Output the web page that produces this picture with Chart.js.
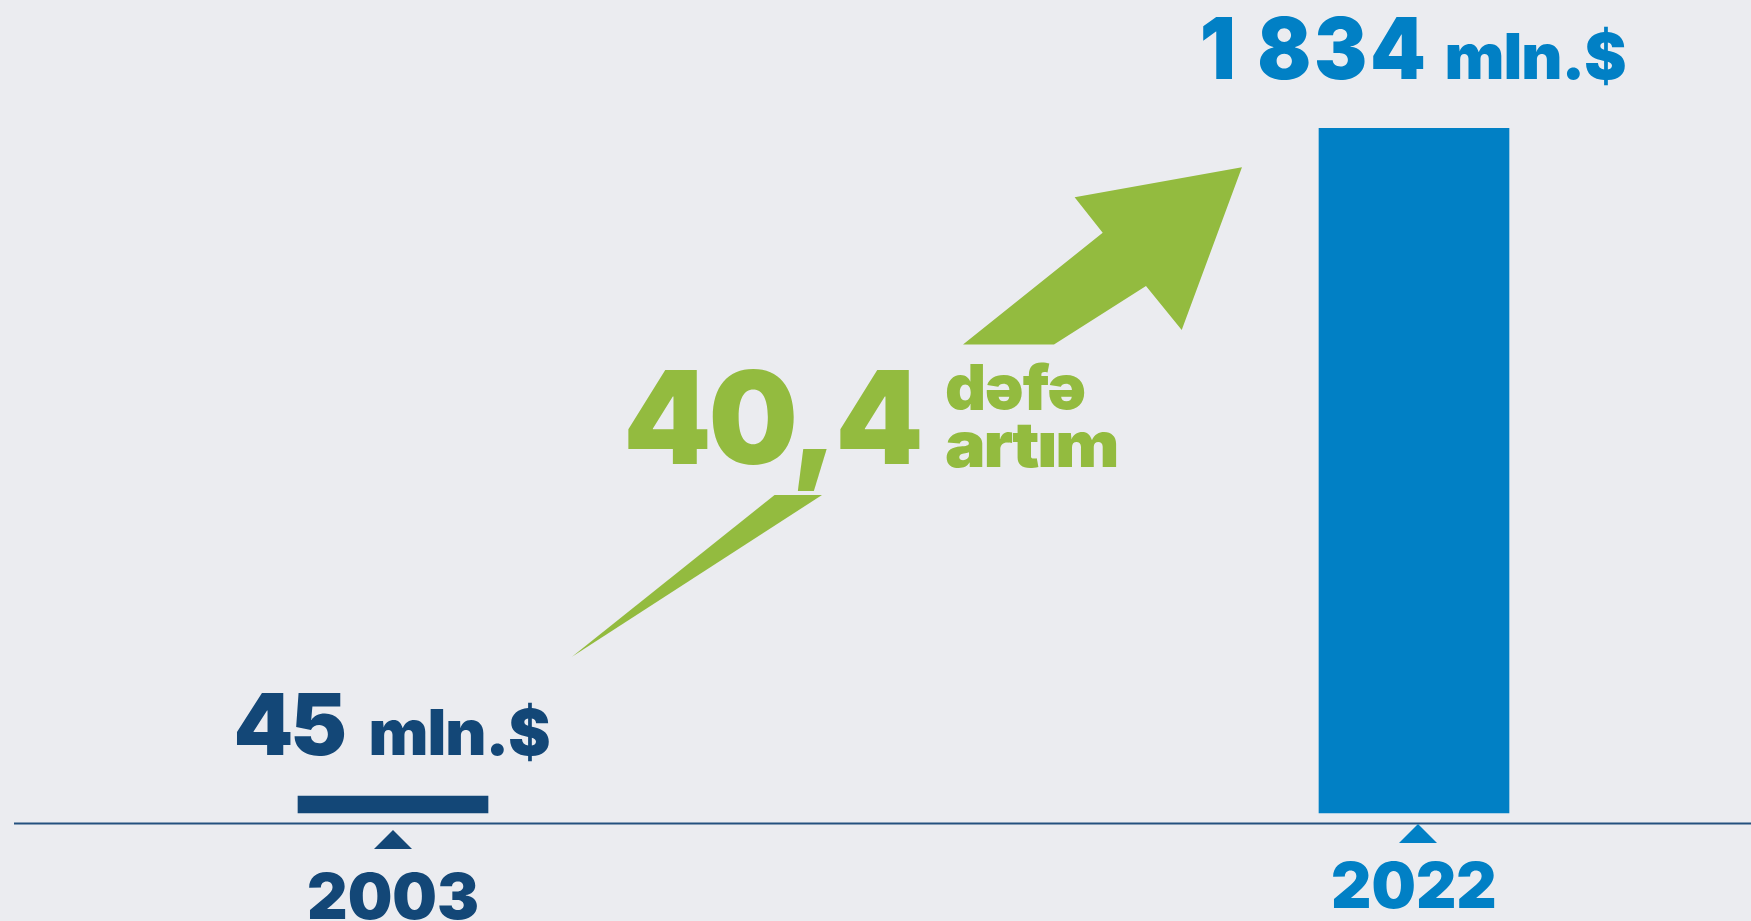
<!DOCTYPE html>
<html><head><meta charset="utf-8">
<script src="https://cdn.jsdelivr.net/npm/chart.js@4.4.1/dist/chart.umd.min.js"></script>
<style>
html,body{margin:0;padding:0;background:#EBECF0;overflow:hidden;}
#wrap{width:1751px;height:921px;position:relative;}
</style></head><body>
<div id="wrap"><canvas id="c"></canvas></div>
<script>
// ---- data ----
const categories = ['2003', '2022'];
const exportValues = [45, 1834];
const unitLabel = 'mln.$';
const growthFactor = '40,4';
const growthWords = ['dəfə', 'artım'];

// ---- styles ----
const NAVY = '#134777', BLUE = '#0180C5', GREEN = '#93BB3F', AXIS = '#24507E';
const barColors = [NAVY, BLUE];
const FONT = 'Inter, "DejaVu Sans", sans-serif';

function fmt(v){ return String(v).replace(/\B(?=(\d{3})+(?!\d))/g, ' '); }

function drawFit(ctx, text, left, baseline, size, inkW, color, track){
  ctx.save();
  ctx.font = `900 ${size}px ${FONT}`;
  ctx.textAlign = 'left'; ctx.textBaseline = 'alphabetic';
  if ('letterSpacing' in ctx) ctx.letterSpacing = Math.round((track || 0) * size) + 'px';
  const m = ctx.measureText(text);
  const natural = m.actualBoundingBoxLeft + m.actualBoundingBoxRight;
  const sx = inkW ? inkW / natural : 1;
  ctx.translate(left, baseline);
  ctx.scale(sx, 1);
  ctx.fillStyle = color;
  ctx.fillText(text, m.actualBoundingBoxLeft, 0);
  ctx.restore();
}

const valueStyle = [
  {numSize: 85, numInk: 108, gap: 27, unitSize: 63, unitInk: 178, lift: 41, track: -0.03},
  {numSize: 85, numInk: 221, gap: 24, unitSize: 63, unitInk: 178, lift: 49, track: 0.03}
];
const tickStyle = [
  {apex: 7, base: 26, half: 19, dx: 0, baseline: 96, ink: 168},
  {apex: 1, base: 20, half: 19, dx: 4, baseline: 85, ink: 162}
];

const annotate = {
  id: 'annotate',
  afterDatasetsDraw(chart){
    const ctx = chart.ctx, xs = chart.scales.x, ys = chart.scales.y;
    const axisY = chart.chartArea.bottom;
    ctx.save();
    ctx.strokeStyle = AXIS; ctx.lineWidth = 2;
    ctx.beginPath(); ctx.moveTo(14, axisY + 0.5); ctx.lineTo(chart.width, axisY + 0.5); ctx.stroke();
    ctx.restore();

    categories.forEach((cat, i) => {
      const cx = xs.getPixelForValue(i);
      const top = ys.getPixelForValue(exportValues[i]);
      const vs = valueStyle[i];
      const groupW = vs.numInk + vs.gap + vs.unitInk;
      const left = cx - groupW / 2;
      const bl = top - vs.lift;
      drawFit(ctx, fmt(exportValues[i]), left, bl, vs.numSize, vs.numInk, barColors[i], vs.track);
      drawFit(ctx, unitLabel, left + vs.numInk + vs.gap, bl, vs.unitSize, vs.unitInk, barColors[i], -0.02);

      const ts = tickStyle[i];
      const tx = cx + ts.dx;
      ctx.save();
      ctx.fillStyle = barColors[i];
      ctx.beginPath();
      ctx.moveTo(tx, axisY + ts.apex);
      ctx.lineTo(tx + ts.half, axisY + ts.base);
      ctx.lineTo(tx - ts.half, axisY + ts.base);
      ctx.closePath(); ctx.fill();
      ctx.restore();
      drawFit(ctx, cat, cx - ts.ink / 2, axisY + ts.baseline, 63, ts.ink, barColors[i]);
    });

    const x0 = xs.getPixelForValue(0), x1 = xs.getPixelForValue(1);
    const y0 = ys.getPixelForValue(0), y1 = ys.getPixelForValue(exportValues[1]);
    const P = (u, v) => [x0 + u * (x1 - x0), y0 - v * (y0 - y1)];
    const poly = pts => {
      ctx.beginPath();
      pts.forEach((p, k) => { const q = P(p[0], p[1]); k ? ctx.lineTo(q[0], q[1]) : ctx.moveTo(q[0], q[1]); });
      ctx.closePath(); ctx.fill();
    };
    ctx.save();
    ctx.fillStyle = GREEN;
    poly([[0.1753, 0.2282], [0.3737, 0.4644], [0.4202, 0.4644]]);
    poly([[0.5583, 0.6842], [0.6951, 0.8475], [0.6676, 0.8992], [0.8315, 0.9430],
          [0.7725, 0.7054], [0.7375, 0.7697], [0.6474, 0.6842]]);
    ctx.restore();
    let q = P(0.2302, 0.5096);
    drawFit(ctx, growthFactor, q[0], q[1], 129, 292, GREEN, -0.02);
    q = P(0.5416, 0.5885);
    drawFit(ctx, growthWords[0], q[0], q[1], 63, 139, GREEN, -0.02);
    q = P(0.5416, 0.5053);
    drawFit(ctx, growthWords[1], q[0], q[1], 63, 171, GREEN, -0.025);
  }
};

new Chart(document.getElementById('c'), {
  type: 'bar',
  data: {
    labels: categories,
    datasets: [{
      data: exportValues,
      backgroundColor: barColors,
      barThickness: 190,
      borderWidth: 0,
      clip: false
    }]
  },
  options: {
    responsive: true,
    maintainAspectRatio: false,
    animation: false,
    layout: {padding: {left: 393, right: 337, top: 29, bottom: 98}},
    plugins: {legend: {display: false}, tooltip: {enabled: false}},
    scales: {
      x: {display: false, offset: false, grid: {display: false}},
      y: {display: false, min: -27, max: 2100}
    }
  },
  plugins: [annotate]
});
</script>
</body></html>
